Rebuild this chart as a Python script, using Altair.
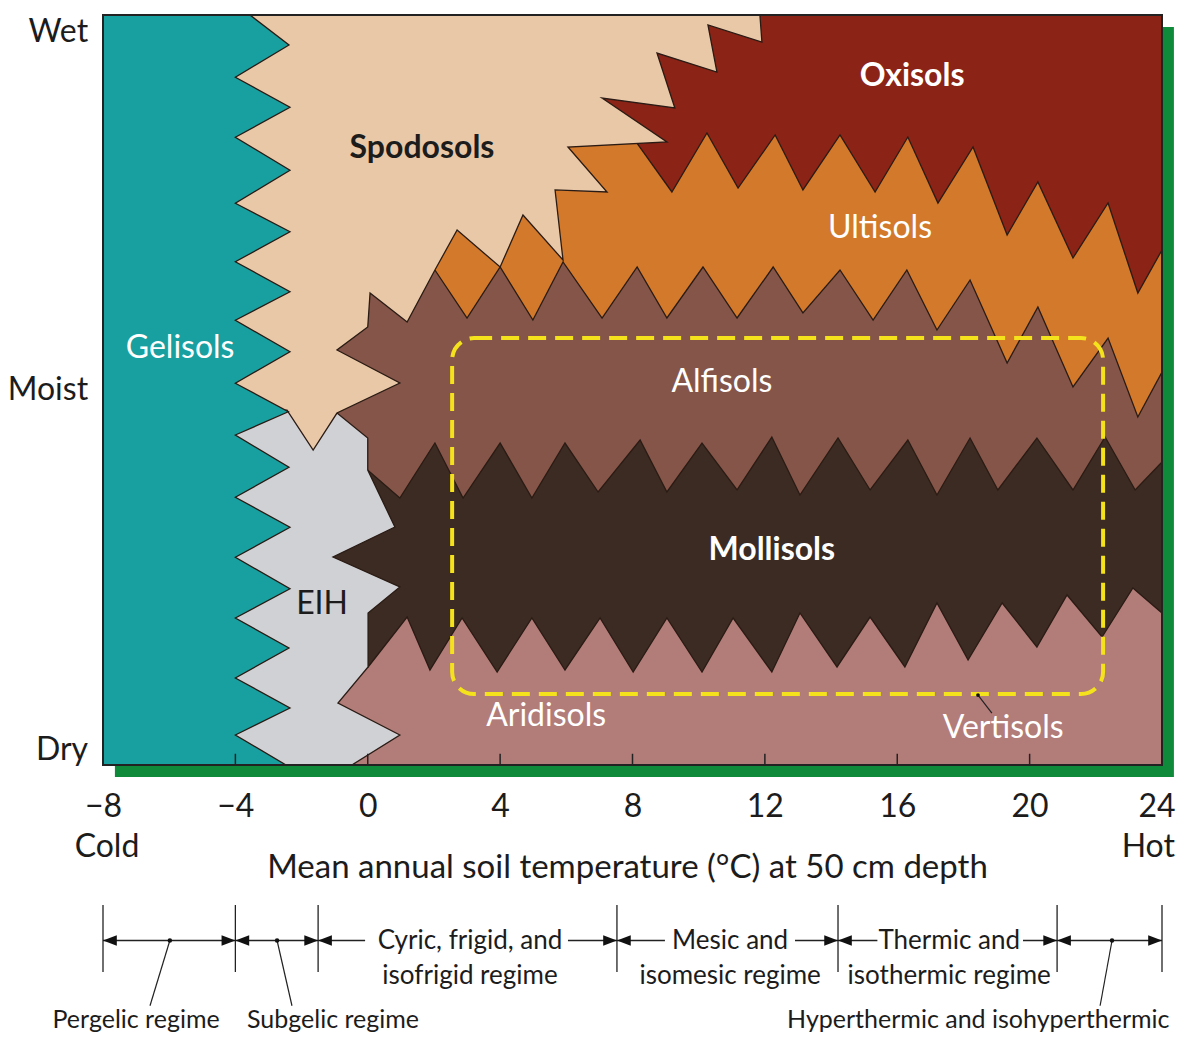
import altair as alt
import pandas as pd

FONT = "Lato"
INK = "#1c1c1c"
OUTLINE = "#2a1b14"

# ---------------- data (x = mean annual soil temperature °C, y = moisture 0=Dry .. 100=Wet)
X_TICKS = [-8, -4, 0, 4, 8, 12, 16, 20, 24]
AXIS_TITLE = "Mean annual soil temperature (°C) at 50 cm depth"

ARIDISOLS = [(-1.2, 0), (24, 0), (24, 100), (-1.2, 100)]
MOLLISOLS = [(-1.2, 13.07), (0.01, 13.07), (1.19, 19.73), (1.88, 12.67), (2.85, 19.6), (3.91, 12.4),
             (4.96, 19.6), (5.96, 12.67), (7.02, 19.6), (8.02, 12.4), (9.04, 19.6), (10.1, 12.4),
             (11.04, 19.6), (12.21, 12.4), (13.06, 20.27), (14.18, 13.07), (15.18, 19.73),
             (16.23, 13.07), (17.2, 21.6), (18.14, 14.0), (19.17, 21.6), (20.22, 15.73),
             (21.13, 22.67), (22.19, 17.07), (23.12, 23.6), (24, 20.27), (24, 100), (-1.2, 100)]
ALFISOLS = [(-1.2, 39.33), (0, 39.33), (0.97, 35.6), (2.03, 42.93), (2.88, 35.6), (4.0, 42.93),
            (4.96, 35.6), (5.96, 42.93), (6.96, 36.4), (8.23, 43.33), (9.04, 36.4), (10.1, 42.93),
            (11.16, 36.67), (12.21, 43.73), (13.06, 36.0), (14.21, 43.6), (15.18, 36.67),
            (16.32, 43.33), (17.2, 36.0), (18.2, 43.6), (19.04, 36.67), (20.22, 43.6),
            (21.31, 36.67), (22.28, 43.73), (23.19, 36.67), (24, 40.4), (24, 100), (-1.2, 100)]
ULTISOLS = [(2.03, 66.0), (3.0, 59.6), (4.0, 66.4), (4.99, 59.33), (5.9, 67.07), (7.08, 59.6),
            (8.14, 66.4), (9.04, 59.6), (10.13, 66.4), (11.16, 59.6), (12.25, 66.4), (13.15, 60.27),
            (14.27, 66.0), (15.27, 59.33), (16.29, 66.0), (17.2, 58.0), (18.2, 64.67), (19.32, 53.6),
            (20.25, 61.07), (21.31, 50.4), (22.37, 56.93), (23.27, 46.4), (24, 52.4), (24, 100),
            (2.03, 100)]
OXISOLS = [(8.14, 82.87), (9.19, 76.4), (10.25, 84.27), (11.19, 76.93), (12.31, 84.0), (13.15, 76.67),
           (14.27, 84.0), (15.33, 76.4), (16.32, 83.73), (17.23, 74.93), (18.29, 82.4), (19.32, 70.67),
           (20.25, 77.73), (21.31, 67.6), (22.37, 74.93), (23.27, 62.93), (24, 68.67), (24, 100),
           (7.0, 100), (7.0, 84.0)]
EIH = [(-4.5, 48), (-0.93, 48), (-0.93, 46.93), (0, 43.6), (0, 39.33), (0.82, 31.73), (-1.05, 27.73),
       (0.97, 23.73), (0.01, 20.27), (0.01, 13.07), (-0.9, 8.27), (0.97, 4.0), (-0.48, 0), (-4.5, 0)]
SPODOSOLS = [(-8, 100), (11.85, 100), (11.91, 96.4), (10.28, 98.67), (10.55, 92.4), (8.74, 94.93),
             (9.28, 87.6), (7.08, 88.93), (9.04, 83.07), (6.05, 82.4), (7.23, 76.4), (5.66, 76.67),
             (5.9, 67.33), (4.69, 73.33), (4.0, 66.4), (2.7, 71.33), (2.03, 66.0), (1.19, 59.07),
             (0.07, 62.93), (0.0, 58.4), (-0.93, 55.33), (0.97, 50.93), (-0.93, 46.93), (-1.65, 42.0),
             (-2.44, 47.33), (-8, 47.33)]
GELISOLS = [(-8, 100), (-3.56, 100), (-2.38, 96), (-4, 91.7), (-2.35, 87.7), (-4, 83.7), (-2.35, 79.3),
            (-4, 74.9), (-2.35, 71.1), (-4, 67.1), (-2.35, 63.1), (-4, 59.3), (-2.35, 55.1), (-4, 50.9),
            (-2.4, 47.1), (-4, 44.0), (-2.38, 39.7), (-4, 35.7), (-2.35, 31.7), (-4, 27.7),
            (-2.35, 23.5), (-4, 19.6), (-2.38, 15.6), (-4, 11.6), (-2.35, 7.6), (-4, 4.0),
            (-2.47, 0), (-8, 0)]

REGIONS = [  # painter's order
    ("Aridisols", ARIDISOLS, "#b27c79"),
    ("Mollisols", MOLLISOLS, "#3b2b22"),
    ("Alfisols", ALFISOLS, "#845548"),
    ("Ultisols", ULTISOLS, "#d2792b"),
    ("Oxisols", OXISOLS, "#8b2317"),
    ("EIH", EIH, "#d0d1d5"),
    ("Spodosols", SPODOSOLS, "#e9c8a8"),
    ("Gelisols", GELISOLS, "#18a0a0"),
]

# region labels: (text, temp, moisture, colour, weight)
REGION_LABELS = [
    ("Oxisols", 16.45, 91.87, "white", "bold"),
    ("Spodosols", 1.64, 82.27, INK, "bold"),
    ("Ultisols", 15.48, 71.6, "white", "normal"),
    ("Gelisols", -5.67, 55.6, "white", "normal"),
    ("Alfisols", 10.7, 51.07, "white", "normal"),
    ("Mollisols", 12.21, 28.67, "white", "bold"),
    ("EIH", -1.38, 21.47, INK, "normal"),
    ("Aridisols", 5.39, 6.53, "white", "normal"),
    ("Vertisols", 19.2, 4.93, "white", "normal"),
]
MOISTURE_LABELS = [("Wet", 97.7), ("Moist", 50), ("Dry", 2)]
COLD_LABEL = ("Cold", -7.88)
HOT_LABEL = ("Hot", 24.39)          # right-aligned at this temperature

HIGHLIGHT_BOX = {"t": 2.55, "t2": 22.22, "v": 9.47, "v2": 56.93}
VERTISOLS_LEADER = {"t": 18.44, "v": 9.33, "t2": 18.86, "v2": 6.93}

REGIME_BOUNDS = [-8, -4, -1.5, 7.53, 14.21, 20.83, 24]
REGIME_SHAFTS = [(-8, -4), (-4, -1.5), (-1.5, -0.08), (6.05, 7.53), (7.53, 8.98), (12.91, 14.21),
                 (14.21, 15.4), (19.8, 20.83), (20.83, 24)]
REGIME_INNER = [("Cyric, frigid, and", "isofrigid regime", 3.09),
                ("Mesic and", "isomesic regime", 10.95),
                ("Thermic and", "isothermic regime", 17.57)]
REGIME_DOTS = [(-5.98, -6.58), (-2.74, -2.29), (22.49, 22.13)]
REGIME_OUTER = [("Pergelic regime", -7.0), ("Subgelic regime", -1.05),
                ("Hyperthermic and isohyperthermic", 18.45)]
INNER_TICKS = [-4, 0, 4, 8, 12, 16, 20]

# row heights of the regime bar (moisture units, below the plot)
BAR_TOP, BAR_ROW, BAR_BOTTOM, BAR_ROW2, LEADER_END, OUTER_ROW, END_ROW = -18.67, -23.4, -27.6, -27.73, -32.1, -34.0, -10.93

MAIN_SIZE = 32
SMALL_SIZE = 26
OUTER_SIZE = 25

# ---------------- encodings
xscale = alt.Scale(domain=[-8, 24], nice=False, zero=False)
yscale = alt.Scale(domain=[0, 100], nice=False, zero=False)
last_tick = "datum.value === %d" % X_TICKS[-1]
xaxis = alt.Axis(values=X_TICKS, domain=False, ticks=False, tickSize=0, grid=False,
                 labelFont=FONT, labelFontSize=MAIN_SIZE, labelColor=INK, labelPadding=41,
                 labelBaseline="middle", labelFlush=False, labelOverlap=False,
                 labelAlign={"condition": {"test": last_tick, "value": "right"}, "value": "center"},
                 labelOffset={"condition": {"test": last_tick, "value": 13}, "value": 0},
                 title=AXIS_TITLE, titleFont=FONT, titleFontSize=MAIN_SIZE + 1, titleFontWeight="normal",
                 titleColor=INK, titleX=524, titleY=102, titleBaseline="middle")


def X(f="t"):
    return alt.X(f"{f}:Q", scale=xscale, axis=xaxis)


def Y(f="v"):
    return alt.Y(f"{f}:Q", scale=yscale, axis=None)


layers = []

# green drop shadow behind the plot
shadow = pd.DataFrame([{"t": -7.64, "t2": 24.36, "v": -1.6, "v2": 98.4}])
layers.append(alt.Chart(shadow).mark_rect(color="#0f8a3a").encode(
    x=X(), x2="t2:Q", y=Y(), y2="v2:Q"))

for name, pts, col in REGIONS:
    df = pd.DataFrame({"t": [p[0] for p in pts], "v": [p[1] for p in pts],
                       "i": list(range(len(pts)))})
    stroke = col if name == "Aridisols" else OUTLINE
    layers.append(alt.Chart(df).mark_line(fill=col, stroke=stroke, strokeWidth=1.3,
                                          strokeJoin="miter", strokeMiterLimit=30).encode(
        x=X(), y=Y(), order="i:Q"))

# plot border
border = pd.DataFrame([{"t": -8, "t2": 24, "v": 0, "v2": 100}])
layers.append(alt.Chart(border).mark_rect(filled=False, stroke="#222222", strokeWidth=2).encode(
    x=X(), x2="t2:Q", y=Y(), y2="v2:Q"))

# inner ticks on the bottom edge
ticks = pd.DataFrame({"t": INNER_TICKS, "v": [0] * len(INNER_TICKS), "v2": [1.5] * len(INNER_TICKS)})
layers.append(alt.Chart(ticks).mark_rule(color="#222222", strokeWidth=1.5).encode(
    x=X(), y=Y(), y2="v2:Q"))

# yellow dashed highlight
layers.append(alt.Chart(pd.DataFrame([HIGHLIGHT_BOX])).mark_rect(
    filled=False, stroke="#f4e21c", strokeWidth=4, strokeDash=[18, 9], cornerRadius=22).encode(
    x=X(), x2="t2:Q", y=Y(), y2="v2:Q"))

# Vertisols leader
vl = pd.DataFrame([VERTISOLS_LEADER])
layers.append(alt.Chart(vl).mark_rule(color="#222222", strokeWidth=1.2).encode(
    x=X(), x2="t2:Q", y=Y(), y2="v2:Q"))
layers.append(alt.Chart(vl).mark_point(filled=True, color="#111111", size=14, opacity=1).encode(
    x=X(), y=Y()))

# region labels
rl = pd.DataFrame(REGION_LABELS, columns=["label", "t", "v", "col", "w"])
for w in ["bold", "normal"]:
    sub = rl[rl.w == w]
    layers.append(alt.Chart(sub).mark_text(font=FONT, fontSize=MAIN_SIZE, fontWeight=w).encode(
        x=X(), y=Y(), text="label:N", color=alt.Color("col:N", scale=None)))

# moisture labels (left)
ml = pd.DataFrame({"label": [m[0] for m in MOISTURE_LABELS], "v": [m[1] for m in MOISTURE_LABELS],
                   "t": [-8.45] * len(MOISTURE_LABELS)})
layers.append(alt.Chart(ml).mark_text(font=FONT, fontSize=MAIN_SIZE, align="right", color=INK).encode(
    x=X(), y=Y(), text="label:N"))

# Cold / Hot
cold = pd.DataFrame([{"label": COLD_LABEL[0], "t": COLD_LABEL[1], "v": END_ROW}])
hot = pd.DataFrame([{"label": HOT_LABEL[0], "t": HOT_LABEL[1], "v": END_ROW}])
layers.append(alt.Chart(cold).mark_text(font=FONT, fontSize=MAIN_SIZE, color=INK).encode(
    x=X(), y=Y(), text="label:N"))
layers.append(alt.Chart(hot).mark_text(font=FONT, fontSize=MAIN_SIZE, color=INK, align="right").encode(
    x=X(), y=Y(), text="label:N"))

# regime bar: separators
sep = pd.DataFrame({"t": REGIME_BOUNDS, "v": [BAR_TOP] * len(REGIME_BOUNDS),
                    "v2": [BAR_BOTTOM] * len(REGIME_BOUNDS)})
layers.append(alt.Chart(sep).mark_rule(color="#222222", strokeWidth=1.3).encode(
    x=X(), y=Y(), y2="v2:Q"))
# shafts
sh = pd.DataFrame({"t": [s[0] for s in REGIME_SHAFTS], "t2": [s[1] for s in REGIME_SHAFTS],
                   "v": [BAR_ROW] * len(REGIME_SHAFTS)})
layers.append(alt.Chart(sh).mark_rule(color="#222222", strokeWidth=1.3).encode(
    x=X(), x2="t2:Q", y=Y()))
# arrow heads (tips on the separators)
left_tips = pd.DataFrame({"t": REGIME_BOUNDS[:-1], "v": [BAR_ROW] * (len(REGIME_BOUNDS) - 1)})
right_tips = pd.DataFrame({"t": REGIME_BOUNDS[1:], "v": [BAR_ROW] * (len(REGIME_BOUNDS) - 1)})
layers.append(alt.Chart(left_tips).mark_point(shape="M0,0L2,-0.75L2,0.75Z", filled=True, size=190,
                                              color="#111111", opacity=1).encode(x=X(), y=Y()))
layers.append(alt.Chart(right_tips).mark_point(shape="M0,0L-2,-0.75L-2,0.75Z", filled=True, size=190,
                                               color="#111111", opacity=1).encode(x=X(), y=Y()))
# dots and leaders
dots = pd.DataFrame({"t": [d[0] for d in REGIME_DOTS], "t2": [d[1] for d in REGIME_DOTS],
                     "v": [BAR_ROW] * len(REGIME_DOTS), "v2": [LEADER_END] * len(REGIME_DOTS)})
layers.append(alt.Chart(dots).mark_rule(color="#222222", strokeWidth=1.2).encode(
    x=X(), x2="t2:Q", y=Y(), y2="v2:Q"))
layers.append(alt.Chart(dots).mark_point(filled=True, size=20, color="#111111", opacity=1).encode(
    x=X(), y=Y()))
# inner regime texts
it = pd.DataFrame({"l1": [r[0] for r in REGIME_INNER], "l2": [r[1] for r in REGIME_INNER],
                   "t": [r[2] for r in REGIME_INNER], "v": [BAR_ROW] * len(REGIME_INNER),
                   "w": [BAR_ROW2] * len(REGIME_INNER)})
layers.append(alt.Chart(it).mark_text(font=FONT, fontSize=SMALL_SIZE, color=INK).encode(
    x=X(), y=Y(), text="l1:N"))
layers.append(alt.Chart(it).mark_text(font=FONT, fontSize=SMALL_SIZE, color=INK, dy=3).encode(
    x=X(), y=Y("w"), text="l2:N"))
# outer regime texts
ot = pd.DataFrame({"label": [r[0] for r in REGIME_OUTER], "t": [r[1] for r in REGIME_OUTER],
                   "v": [OUTER_ROW] * len(REGIME_OUTER)})
layers.append(alt.Chart(ot).mark_text(font=FONT, fontSize=OUTER_SIZE, color=INK).encode(
    x=X(), y=Y(), text="label:N"))

chart = alt.layer(*layers).properties(
    width=1059, height=750,
    padding={"left": 95, "top": 7, "right": 14, "bottom": 273},
    autosize=alt.AutoSizeParams(type="none"),
    background="white",
).configure_view(strokeWidth=0)

chart.save("out.html", embed_options={"renderer": "svg", "actions": False})
